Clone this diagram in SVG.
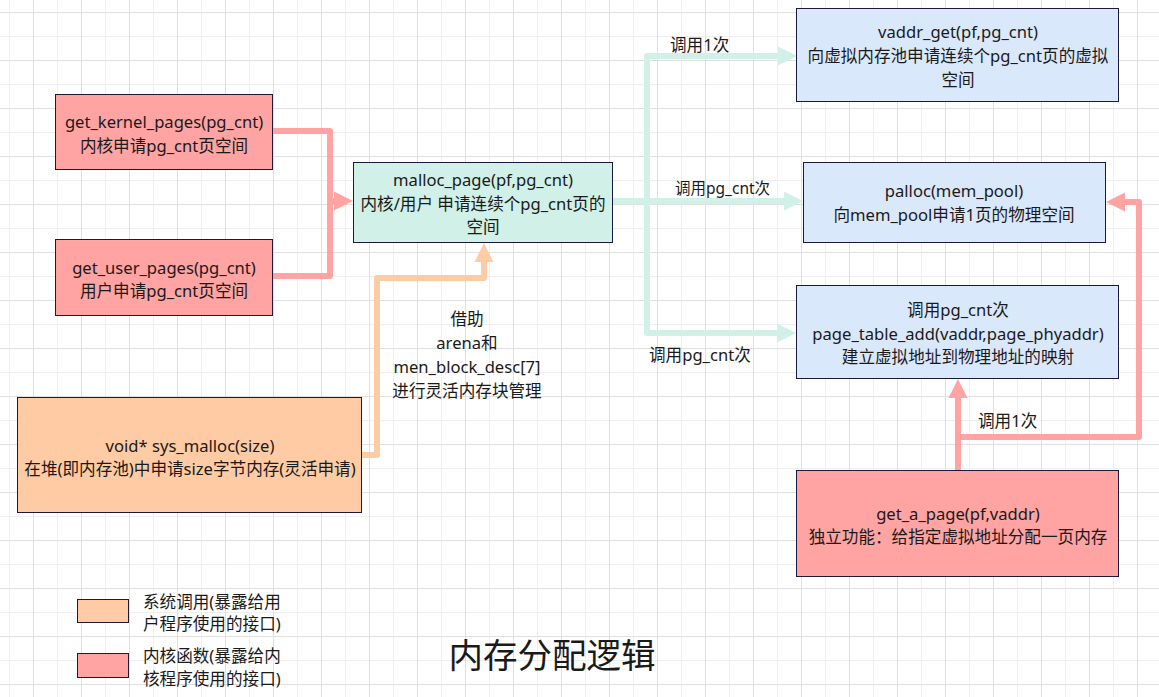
<svg xmlns="http://www.w3.org/2000/svg" width="1159" height="697" viewBox="0 0 1159 697">
<defs>
<pattern id="grid" x="9" y="12" width="48" height="48" patternUnits="userSpaceOnUse">
<line x1="0.5" y1="0" x2="0.5" y2="48" stroke="#efefef" stroke-width="1"/>
<line x1="0" y1="24.5" x2="48" y2="24.5" stroke="#efefef" stroke-width="1"/>
<line x1="24.5" y1="0" x2="24.5" y2="48" stroke="#e0e0e0" stroke-width="1"/>
<line x1="0" y1="0.5" x2="48" y2="0.5" stroke="#e0e0e0" stroke-width="1"/>
</pattern>
<path id="arrowR" d="M-19,-9.5 L0,0 L-19,9.5 Z"/>
</defs>
<style>
text{font-family:"Noto Sans","Noto Sans CJK SC",sans-serif;font-size:16.6px;fill:#1a1a1a;text-anchor:middle}
.box{stroke:#1a1a40;stroke-width:1}
.pink{fill:#ffa3a3}
.peach{fill:#ffcba4}
.teal{fill:#d0f0e8}
.blue{fill:#dae8fc}
.c{fill:none;stroke-width:6;stroke-linejoin:round;stroke-linecap:butt}
.cp{stroke:#ffa3a3}
.ct{stroke:#d0f0e8}
.cpe{stroke:#ffcba4}
.lbl{text-anchor:start}
</style>
<rect width="1159" height="697" fill="#ffffff"/>
<rect width="1159" height="697" fill="url(#grid)"/>

<g id="connectors">
<path class="c cp" d="M272,131 H330 V276 H272" />
<path class="c cp" d="M330,201 H340"/>
<use href="#arrowR" class="pink" transform="translate(353,201)"/>
<path class="c cpe" d="M361,455 H377 V278 H484 V258"/>
<use href="#arrowR" class="peach" transform="translate(484,243) rotate(-90)"/>
<path class="c ct" d="M612,201 H647 V56 H782"/>
<use href="#arrowR" class="teal" transform="translate(797,56)"/>
<path class="c ct" d="M647,201 H788"/>
<use href="#arrowR" class="teal" transform="translate(803,201)"/>
<path class="c ct" d="M647,201 V333 H781"/>
<use href="#arrowR" class="teal" transform="translate(796,333)"/>
<path class="c cp" d="M958,470 V394"/>
<use href="#arrowR" class="pink" transform="translate(958,379) rotate(-90)"/>
<path class="c cp" d="M958,437 H1139 V202 H1120"/>
<use href="#arrowR" class="pink" transform="translate(1106,202) rotate(180)"/>
<text class="lbl" x="670" y="51">调用1次</text>
<text class="lbl" x="675" y="194" style="font-size:15.5px">调用pg_cnt次</text>
<text class="lbl" x="649" y="361">调用pg_cnt次</text>
<text class="lbl" x="978" y="427">调用1次</text>
<text x="467" y="325">借助</text>
<text x="467" y="349">arena和</text>
<text x="467" y="373">men_block_desc[7]</text>
<text x="467" y="397">进行灵活内存块管理</text>
</g>

<g id="get_kernel_pages">
<rect class="box pink" x="55.5" y="94.5" width="217" height="75"/>
<text x="164" y="128">get_kernel_pages(pg_cnt)</text>
<text x="164" y="152">内核申请pg_cnt页空间</text>
</g>
<g id="get_user_pages">
<rect class="box pink" x="55.5" y="239.5" width="217" height="76"/>
<text x="164" y="274">get_user_pages(pg_cnt)</text>
<text x="164" y="297">用户申请pg_cnt页空间</text>
</g>
<g id="malloc_page">
<rect class="box teal" x="353.5" y="162.5" width="259" height="80"/>
<text x="483" y="186">malloc_page(pf,pg_cnt)</text>
<text x="483" y="210">内核/用户 申请连续个pg_cnt页的</text>
<text x="483" y="233">空间</text>
</g>
<g id="sys_malloc">
<rect class="box peach" x="17.5" y="397.5" width="344" height="115"/>
<text x="190" y="452">void* sys_malloc(size)</text>
<text x="190" y="475">在堆(即内存池)中申请size字节内存(灵活申请)</text>
</g>
<g id="vaddr_get">
<rect class="box blue" x="796.5" y="8.5" width="322" height="93"/>
<text x="958" y="38">vaddr_get(pf,pg_cnt)</text>
<text x="958" y="62">向虚拟内存池申请连续个pg_cnt页的虚拟</text>
<text x="958" y="86">空间</text>
</g>
<g id="palloc">
<rect class="box blue" x="803.5" y="162.5" width="302" height="80"/>
<text x="954" y="197">palloc(mem_pool)</text>
<text x="954" y="221">向mem_pool申请1页的物理空间</text>
</g>
<g id="page_table_add">
<rect class="box blue" x="796.5" y="285.5" width="322" height="93"/>
<text x="958" y="316">调用pg_cnt次</text>
<text x="958" y="340">page_table_add(vaddr,page_phyaddr)</text>
<text x="958" y="363">建立虚拟地址到物理地址的映射</text>
</g>
<g id="get_a_page">
<rect class="box pink" x="796.5" y="470.5" width="322" height="106"/>
<text x="958" y="520">get_a_page(pf,vaddr)</text>
<text x="958" y="543">独立功能：给指定虚拟地址分配一页内存</text>
</g>

<g id="legend">
<rect class="box peach" x="77.5" y="599.5" width="51" height="23"/>
<text class="lbl" x="143" y="608">系统调用(暴露给用</text>
<text class="lbl" x="143" y="630">户程序使用的接口)</text>
<rect class="box pink" x="77.5" y="653.5" width="51" height="24"/>
<text class="lbl" x="143" y="662">内核函数(暴露给内</text>
<text class="lbl" x="143" y="685">核程序使用的接口)</text>
</g>
<g id="title">
<text x="552" y="668" style="font-size:34.5px">内存分配逻辑</text>
</g>
</svg>
